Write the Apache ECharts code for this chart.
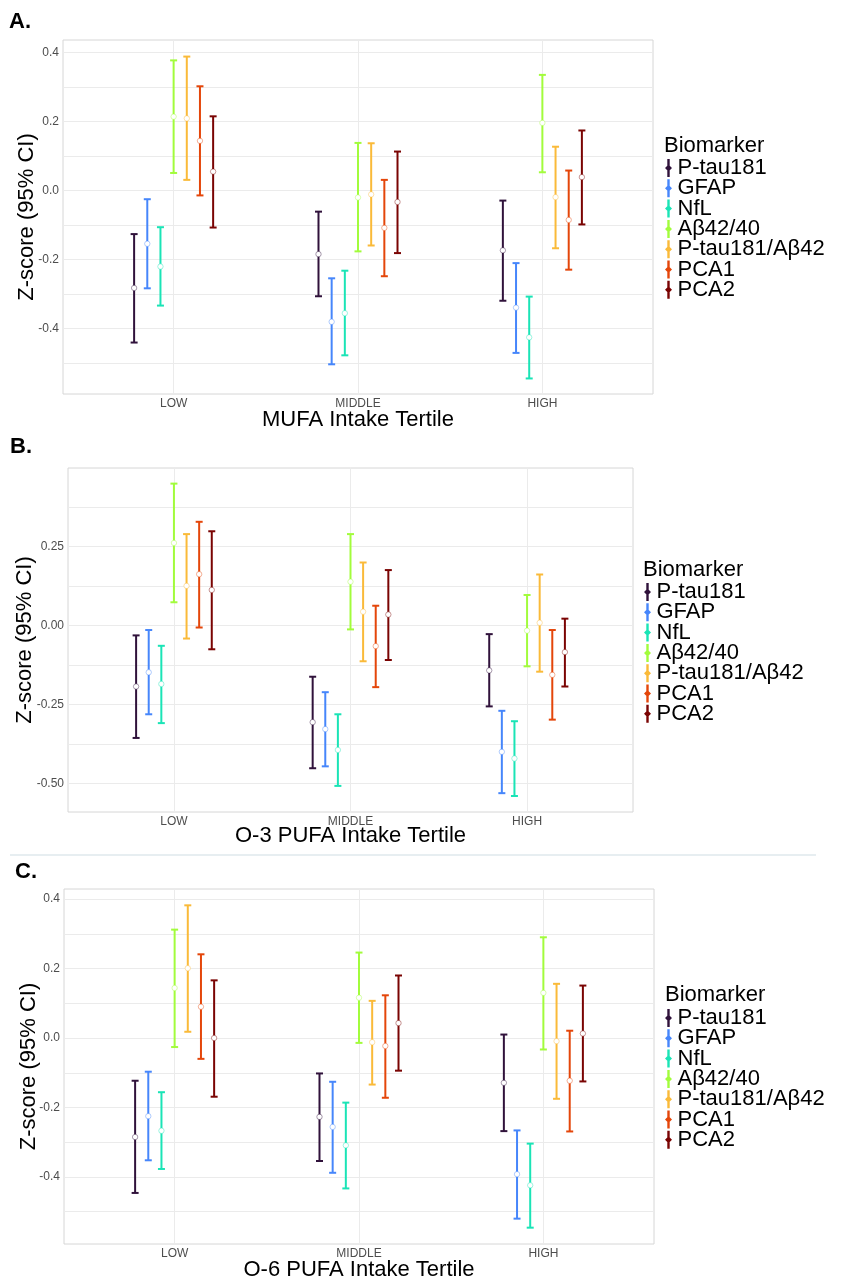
<!DOCTYPE html>
<html><head><meta charset="utf-8">
<script src="https://cdn.jsdelivr.net/npm/echarts@6/dist/echarts.min.js"></script>
<style>html,body{margin:0;padding:0;background:#fff}#c{width:843px;height:1278px}</style>
</head><body><div id="c"></div>
<script>
const tertiles = ['LOW', 'MIDDLE', 'HIGH'];
const biomarkers = ['P-tau181', 'GFAP', 'NfL', 'Aβ42/40', 'P-tau181/Aβ42', 'PCA1', 'PCA2'];
const colors = ['#30123B', '#4686FB', '#1AE4B6', '#A2FC3C', '#FABA39', '#E4460A', '#7A0403'];

// rows = biomarkers (order above), columns = tertiles LOW, MIDDLE, HIGH
const mufaEst = [
  [-0.282, -0.184, -0.173], [-0.154, -0.380, -0.339], [-0.220, -0.355, -0.425],
  [0.214, -0.020, 0.196], [0.209, -0.011, -0.019], [0.144, -0.108, -0.085], [0.055, -0.033, 0.039]];
const mufaLo = [
  [-0.440, -0.306, -0.319], [-0.283, -0.503, -0.470], [-0.333, -0.477, -0.544],
  [0.051, -0.176, 0.053], [0.031, -0.159, -0.167], [-0.014, -0.248, -0.229], [-0.107, -0.181, -0.098]];
const mufaHi = [
  [-0.126, -0.061, -0.029], [-0.025, -0.254, -0.210], [-0.106, -0.232, -0.307],
  [0.377, 0.138, 0.335], [0.388, 0.137, 0.127], [0.302, 0.031, 0.058], [0.215, 0.113, 0.174]];

const o3Est = [
  [-0.193, -0.306, -0.142], [-0.148, -0.328, -0.400], [-0.185, -0.394, -0.421],
  [0.262, 0.139, -0.016], [0.126, 0.044, 0.009], [0.163, -0.065, -0.156], [0.113, 0.035, -0.084]];
const o3Lo = [
  [-0.356, -0.452, -0.256], [-0.281, -0.446, -0.531], [-0.309, -0.508, -0.540],
  [0.074, -0.012, -0.129], [-0.041, -0.113, -0.146], [-0.006, -0.195, -0.298], [-0.075, -0.109, -0.193]];
const o3Hi = [
  [-0.031, -0.162, -0.027], [-0.014, -0.211, -0.270], [-0.064, -0.281, -0.303],
  [0.450, 0.290, 0.097], [0.290, 0.200, 0.162], [0.329, 0.063, -0.014], [0.299, 0.176, 0.022]];

const o6Est = [
  [-0.285, -0.227, -0.129], [-0.225, -0.256, -0.392], [-0.267, -0.309, -0.424],
  [0.144, 0.116, 0.130], [0.201, -0.012, -0.009], [0.090, -0.023, -0.123], [0.000, 0.043, 0.013]];
const o6Lo = [
  [-0.446, -0.354, -0.268], [-0.352, -0.388, -0.520], [-0.377, -0.433, -0.546],
  [-0.026, -0.014, -0.033], [0.018, -0.134, -0.175], [-0.060, -0.172, -0.269], [-0.169, -0.094, -0.125]];
const o6Hi = [
  [-0.123, -0.102, 0.010], [-0.097, -0.126, -0.266], [-0.156, -0.186, -0.304],
  [0.312, 0.246, 0.290], [0.382, 0.107, 0.156], [0.241, 0.123, 0.021], [0.166, 0.180, 0.151]];

const mufaTickValues = [-0.4, -0.2, 0, 0.2, 0.4];
const mufaTickLabels = ['-0.4', '-0.2', '0.0', '0.2', '0.4'];
const mufaGridValues = [-0.5, -0.4, -0.3, -0.2, -0.1, 0, 0.1, 0.2, 0.3, 0.4];
const o3TickValues = [-0.5, -0.25, 0, 0.25];
const o3TickLabels = ['-0.50', '-0.25', '0.00', '0.25'];
const o3GridValues = [-0.5, -0.375, -0.25, -0.125, 0, 0.125, 0.25, 0.375];
const o6TickValues = [-0.4, -0.2, 0, 0.2, 0.4];
const o6TickLabels = ['-0.4', '-0.2', '0.0', '0.2', '0.4'];
const o6GridValues = [-0.5, -0.4, -0.3, -0.2, -0.1, 0, 0.1, 0.2, 0.3, 0.4];

const xTitles = ['MUFA Intake Tertile', 'O-3 PUFA Intake Tertile', 'O-6 PUFA Intake Tertile'];
const yTitle = 'Z-score (95% CI)';
const panelLetters = ['A.', 'B.', 'C.'];
const legendTitle = 'Biomarker';

const FONT = '"Liberation Sans", Arial, Helvetica, sans-serif';

const panels = [
  { est: mufaEst, lo: mufaLo, hi: mufaHi, tv: mufaTickValues, tl: mufaTickLabels, gv: mufaGridValues,
    grid: { left: 63, top: 40, width: 590, height: 354 }, ymin: -0.589, ymax: 0.436, yGap: 25, xGap: 15,
    legend: { left: 660, top: 152 }, legendTitle: { x: 664, y: 146 }, letter: { x: 9, y: 23 } },
  { est: o3Est, lo: o3Lo, hi: o3Hi, tv: o3TickValues, tl: o3TickLabels, gv: o3GridValues,
    grid: { left: 68, top: 468, width: 565, height: 344 }, ymin: -0.5907, ymax: 0.4995, yGap: 32, xGap: 13,
    legend: { left: 639, top: 576 }, legendTitle: { x: 643, y: 570 }, letter: { x: 10, y: 448 } },
  { est: o6Est, lo: o6Lo, hi: o6Hi, tv: o6TickValues, tl: o6TickLabels, gv: o6GridValues,
    grid: { left: 64, top: 889, width: 590, height: 355 }, ymin: -0.593, ymax: 0.429, yGap: 24.5, xGap: 15,
    legend: { left: 660, top: 1002 }, legendTitle: { x: 665, y: 995 }, letter: { x: 15, y: 873 } }
];

const dodge = 0.5;
const nB = biomarkers.length;

const grids = [], xAxes = [], yAxes = [], series = [], legends = [], graphics = [];

panels.forEach((p, pi) => {
  grids.push(Object.assign({ show: true, borderColor: '#d6d6d6', borderWidth: 1, backgroundColor: 'transparent',
    containLabel: false, outerBoundsMode: 'none' }, p.grid));
  xAxes.push({
    type: 'value', gridIndex: pi, min: 0.4, max: 3.6,
    name: xTitles[pi], nameLocation: 'middle', nameGap: p.xGap, nameMoveOverlap: false,
    nameTextStyle: { fontSize: 22, color: '#000', fontFamily: FONT },
    axisLine: { show: false },
    axisTick: { show: false, customValues: [1, 2, 3] },
    axisLabel: { customValues: [1, 2, 3], margin: 4, fontSize: 12, color: '#4d4d4d', fontFamily: FONT,
      formatter: v => tertiles[Math.round(v) - 1] },
    splitLine: { show: true, lineStyle: { color: '#ebebeb', width: 1 } }
  });
  yAxes.push({
    type: 'value', gridIndex: pi, min: p.ymin, max: p.ymax,
    name: yTitle, nameLocation: 'middle', nameGap: p.yGap, nameMoveOverlap: false,
    nameTextStyle: { fontSize: 22, color: '#000', fontFamily: FONT },
    axisLine: { show: false },
    axisTick: { show: false, customValues: p.gv },
    axisLabel: { customValues: p.tv, margin: 4, fontSize: 12, color: '#4d4d4d', fontFamily: FONT,
      formatter: v => { const i = p.tv.findIndex(t => Math.abs(t - v) < 1e-6); return i >= 0 ? p.tl[i] : ''; } },
    splitLine: { show: true, lineStyle: { color: '#ebebeb', width: 1 } }
  });
  biomarkers.forEach((b, bi) => {
    const off = (bi - (nB - 1) / 2) * dodge / nB;
    series.push({
      type: 'custom', name: b, xAxisIndex: pi, yAxisIndex: pi,
      itemStyle: { color: colors[bi] },
      encode: { x: 0, y: [1, 2, 3] },
      data: tertiles.map((t, ti) => [ti + 1 + off, p.lo[bi][ti], p.est[bi][ti], p.hi[bi][ti]]),
      renderItem: (params, api) => {
        const x = api.value(0);
        const a = api.coord([x, api.value(1)]);
        const m = api.coord([x, api.value(2)]);
        const h = api.coord([x, api.value(3)]);
        const c = api.visual('color');
        const cw = 3.5;
        const ls = { stroke: c, lineWidth: 2 };
        return { type: 'group', children: [
          { type: 'line', shape: { x1: a[0], y1: a[1], x2: h[0], y2: h[1] }, style: ls },
          { type: 'line', shape: { x1: a[0] - cw, y1: a[1], x2: a[0] + cw, y2: a[1] }, style: ls },
          { type: 'line', shape: { x1: h[0] - cw, y1: h[1], x2: h[0] + cw, y2: h[1] }, style: ls },
          { type: 'circle', shape: { cx: m[0], cy: m[1], r: 2.7 }, style: { fill: '#fff', stroke: c, lineWidth: 0.7, strokeOpacity: 0.6 } }
        ] };
      }
    });
  });
  legends.push({
    orient: 'vertical', left: p.legend.left, top: p.legend.top,
    itemWidth: 8, itemHeight: 18, itemGap: -1.7,
    icon: 'path://M2.8,0h2.4v18h-2.4zM4,5.5L7.5,9L4,12.5L0.5,9z',
    textStyle: { fontSize: 22, color: '#000', fontFamily: FONT },
    data: biomarkers, selectedMode: false
  });
  graphics.push({ type: 'text', left: p.legendTitle.x, top: p.legendTitle.y - 11,
    style: { text: legendTitle, font: '22px ' + FONT, fill: '#000' } });
  graphics.push({ type: 'text', left: p.letter.x, top: p.letter.y - 12,
    style: { text: panelLetters[pi], font: 'bold 22px ' + FONT, fill: '#000' } });
});

graphics.push({ type: 'line', shape: { x1: 10, y1: 855, x2: 816, y2: 855 }, style: { stroke: '#dfe8ec', lineWidth: 1.5 } });

const chart = echarts.init(document.getElementById('c'), null, { renderer: 'canvas' });
chart.setOption({
  backgroundColor: '#fff',
  animation: false,
  grid: grids, xAxis: xAxes, yAxis: yAxes, series: series, legend: legends, graphic: graphics
});
</script></body></html>
